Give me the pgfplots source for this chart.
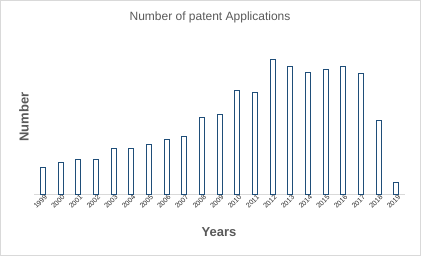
\documentclass[border=0pt]{standalone}
\usepackage{fontspec}
\setmainfont{Liberation Sans}
\usepackage{pgfplots}
\pgfplotsset{compat=1.18}
\definecolor{barc}{RGB}{31,78,121}
\definecolor{txtc}{RGB}{89,89,89}
\definecolor{axc}{RGB}{217,217,217}
\begin{document}
\begin{tikzpicture}[x=1pt,y=1pt]
\draw[axc, line width=0.8pt] (0.4,0.4) rectangle (420.6,255.6);
\node[txtc, font=\fontsize{12}{14}\selectfont] at (210,239) {Number of patent Applications};
\node[txtc, font=\fontsize{13}{15}\selectfont\bfseries, rotate=90] at (24,139) {Number};
\node[txtc, font=\fontsize{13}{15}\selectfont\bfseries] at (219,24) {Years};
\begin{axis}[
  at={(34pt,61pt)}, anchor=south west,
  scale only axis, width=371pt, height=145pt,
  xmin=-0.5, xmax=20.5, ymin=0, ymax=145,
  axis y line=none,
  axis x line=bottom,
  x axis line style={axc, line width=1pt, -},
  xtick=data,
  xticklabels={1999,2000,2001,2002,2003,2004,2005,2006,2007,2008,2009,2010,2011,2012,2013,2014,2015,2016,2017,2018,2019},
  major tick length=0pt,
  xticklabel style={rotate=45, anchor=east, font=\fontsize{7}{7}\selectfont, text={rgb,255:red,40;green,40;blue,40}, inner sep=0.5pt, xshift=2pt, yshift=-3pt},
  clip=false,
]
\addplot[ybar, bar width=5pt, draw=barc, line width=1pt, fill=white] coordinates {
(0,27.7) (1,32.7) (2,35.7) (3,35.7) (4,46.7) (5,46.7) (6,50.7) (7,55.7) (8,58.7) (9,77.7)
(10,80.7) (11,104.7) (12,102.7) (13,135.7) (14,128.7) (15,122.7) (16,125.7) (17,128.7)
(18,121.7) (19,74.7) (20,12.7)};
\end{axis}
\end{tikzpicture}
\end{document}
